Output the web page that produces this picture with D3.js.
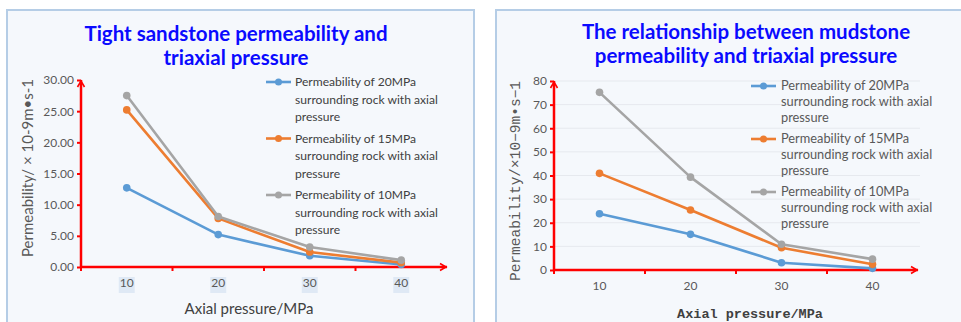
<!DOCTYPE html>
<html>
<head>
<meta charset="utf-8">
<script src="https://cdn.jsdelivr.net/npm/d3@7"></script>
<style>
  html, body { margin: 0; padding: 0; background: #ffffff; }
  svg { display: block; }
</style>
</head>
<body>
<svg id="chart" width="961" height="322"></svg>
<script>
// Axial pressure categories (MPa)
const categories = ["10", "20", "30", "40"];

// Series names (confining pressure)
const seriesNames = [
  "Permeability of 20MPa surrounding rock with axial pressure",
  "Permeability of 15MPa surrounding rock with axial pressure",
  "Permeability of 10MPa surrounding rock with axial pressure"
];
const seriesColors = ["#5b9bd5", "#ed7d31", "#a5a5a5"];

// Tight sandstone permeability (×10^-9 m/s)
const sandstone20 = [12.7, 5.2, 1.8, 0.4];
const sandstone15 = [25.2, 7.8, 2.4, 0.7];
const sandstone10 = [27.5, 8.1, 3.2, 1.1];
const sandstoneTicks = [0, 5, 10, 15, 20, 25, 30];

// Mudstone permeability (×10^-9 m/s)
const mudstone20 = [23.8, 15.1, 3.1, 0.7];
const mudstone15 = [40.9, 25.4, 9.4, 2.4];
const mudstone10 = [75.2, 39.3, 10.9, 4.6];
const mudstoneTicks = [0, 10, 20, 30, 40, 50, 60, 70, 80];

const svg = d3.select("#chart");
const AXIS_RED = "#ff0000";

function drawPanel(cfg) {
  const g = svg.append("g");

  // panel background and frame
  g.append("rect")
    .attr("x", cfg.frame[0]).attr("y", cfg.frame[1])
    .attr("width", cfg.frame[2]).attr("height", cfg.frame[3])
    .attr("fill", "#f5f8fc")
    .attr("stroke", "#b5cde6").attr("stroke-width", 2);

  // title
  const title = g.append("text")
    .attr("x", cfg.titleX).attr("y", cfg.titleY)
    .attr("text-anchor", "middle")
    .attr("fill", "#0a0aff")
    .attr("font-family", cfg.titleFont)
    .attr("font-weight", "bold")
    .attr("font-size", cfg.titleSize);
  cfg.title.forEach((line, i) => {
    title.append("tspan").attr("x", cfg.titleX).attr("dy", i === 0 ? 0 : cfg.titleGap).text(line);
  });

  const x = d3.scaleBand().domain(categories).range([cfg.x0, cfg.x1]).padding(0);
  const y = d3.scaleLinear().domain(cfg.yDomain).range([cfg.y0, cfg.yTop]);

  // horizontal gridlines
  if (cfg.grid) {
    g.append("g").selectAll("line").data(cfg.yTicks.slice(1)).join("line")
      .attr("x1", cfg.x0).attr("x2", cfg.x1 + 2)
      .attr("y1", d => y(d)).attr("y2", d => y(d))
      .attr("stroke", "#e6e9ee").attr("stroke-width", 1);
  }

  // y axis
  const yAxis = g.append("g")
    .attr("transform", `translate(${cfg.x0},0)`)
    .call(d3.axisLeft(y).tickValues(cfg.yTicks).tickFormat(cfg.yFormat).tickSize(4).tickPadding(3));
  yAxis.select(".domain").remove();
  yAxis.selectAll(".tick line").attr("stroke", AXIS_RED).attr("stroke-width", 2);
  yAxis.selectAll(".tick text")
    .attr("fill", "#595959")
    .attr("font-family", cfg.tickFont)
    .attr("font-size", cfg.tickSize);
  g.append("line")
    .attr("x1", cfg.x0).attr("x2", cfg.x0)
    .attr("y1", cfg.y0 + 1).attr("y2", cfg.yTop)
    .attr("stroke", AXIS_RED).attr("stroke-width", 2.5);
  g.append("path")
    .attr("d", `M${cfg.x0 - 3.5},${cfg.yTop + 7}L${cfg.x0},${cfg.yTop + 1}L${cfg.x0 + 3.5},${cfg.yTop + 7}`)
    .attr("fill", "none").attr("stroke", AXIS_RED).attr("stroke-width", 1.6);

  // x axis with ticks between categories
  const xAxis = g.append("g")
    .attr("transform", `translate(0,${cfg.y0})`)
    .call(d3.axisBottom(x).tickSize(0).tickPadding(cfg.xLabelPad));
  xAxis.select(".domain").remove();
  xAxis.selectAll(".tick text")
    .attr("fill", "#595959")
    .attr("font-family", cfg.tickFont)
    .attr("font-size", cfg.tickSize);
  if (cfg.labelBoxes) {
    xAxis.selectAll(".tick").insert("rect", "text")
      .attr("x", -8).attr("y", cfg.xLabelPad - 1)
      .attr("width", 16).attr("height", 16)
      .attr("fill", "#dfe9f5");
  }
  g.append("line")
    .attr("x1", cfg.x0 - 1).attr("x2", cfg.x1)
    .attr("y1", cfg.y0).attr("y2", cfg.y0)
    .attr("stroke", AXIS_RED).attr("stroke-width", 2.5);
  const bounds = categories.map(c => x(c)).slice(1);
  g.append("g").selectAll("line").data([cfg.x0].concat(bounds)).join("line")
    .attr("x1", d => d).attr("x2", d => d)
    .attr("y1", cfg.y0).attr("y2", cfg.y0 + 4)
    .attr("stroke", AXIS_RED).attr("stroke-width", 2);
  g.append("path")
    .attr("d", `M${cfg.x1 - 7},${cfg.y0 - 3.5}L${cfg.x1 - 1},${cfg.y0}L${cfg.x1 - 7},${cfg.y0 + 3.5}`)
    .attr("fill", "none").attr("stroke", AXIS_RED).attr("stroke-width", 1.6);

  // axis titles
  g.append("text")
    .attr("x", cfg.xTitleX).attr("y", cfg.xTitleY)
    .attr("text-anchor", "middle")
    .attr("fill", "#404040")
    .attr("font-family", cfg.xTitleFont)
    .attr("font-weight", cfg.xTitleWeight)
    .attr("font-size", cfg.xTitleSize)
    .text("Axial pressure/MPa");
  g.append("text")
    .attr("transform", `translate(${cfg.yTitleX},${cfg.yTitleY}) rotate(-90)`)
    .attr("text-anchor", "middle")
    .attr("fill", "#595959")
    .attr("font-family", cfg.yTitleFont)
    .attr("font-size", cfg.yTitleSize)
    .text(cfg.yTitle);

  // series lines and markers
  const line = d3.line().x((d, i) => x(categories[i]) + x.bandwidth() / 2).y(d => y(d));
  cfg.series.forEach((vals, k) => {
    const s = g.append("g");
    s.append("path").datum(vals)
      .attr("d", line)
      .attr("fill", "none")
      .attr("stroke", seriesColors[k])
      .attr("stroke-width", 2.6)
      .attr("stroke-linejoin", "round");
    s.selectAll("circle").data(vals).join("circle")
      .attr("cx", (d, i) => x(categories[i]) + x.bandwidth() / 2)
      .attr("cy", d => y(d))
      .attr("r", 3.8)
      .attr("fill", seriesColors[k]);
  });

  // legend
  const leg = g.append("g");
  seriesNames.forEach((name, k) => {
    const top = cfg.legY + k * cfg.legEntryGap;
    leg.append("line")
      .attr("x1", cfg.legX).attr("x2", cfg.legX + cfg.legLen)
      .attr("y1", top).attr("y2", top)
      .attr("stroke", seriesColors[k]).attr("stroke-width", 2.6);
    leg.append("circle")
      .attr("cx", cfg.legX + cfg.legLen / 2).attr("cy", top).attr("r", 3.5)
      .attr("fill", seriesColors[k]);
    const words = name.split(" ");
    const lines = [words.slice(0, 3).join(" "), words.slice(3, 7).join(" "), words.slice(7).join(" ")];
    const t = leg.append("text")
      .attr("x", cfg.legTextX).attr("y", top + 4)
      .attr("fill", cfg.legColor)
      .attr("font-family", cfg.legFont)
      .attr("font-size", cfg.legSize);
    lines.forEach((ln, i) => {
      t.append("tspan").attr("x", cfg.legTextX).attr("dy", i === 0 ? 0 : cfg.legLineGap).text(ln);
    });
  });
}

drawPanel({
  frame: [7, 10, 467, 330],
  title: ["Tight sandstone permeability and", "triaxial pressure"],
  titleX: 236, titleY: 41, titleGap: 24, titleSize: 20.5, titleFont: "Lato, 'Open Sans', sans-serif",
  x0: 81, x1: 447, y0: 267, yTop: 80,
  yDomain: [0, 30], yTicks: sandstoneTicks, yFormat: d3.format(".2f"),
  grid: false,
  tickFont: "Lato, sans-serif", tickSize: 12, xLabelPad: 11, labelBoxes: true,
  xTitleX: 249, xTitleY: 314, xTitleFont: "Lato, sans-serif", xTitleWeight: "normal", xTitleSize: 15,
  yTitle: "Permeability/ \u00D7 10-9m\u2022s-1", yTitleX: 33, yTitleY: 168, yTitleFont: "Lato, sans-serif", yTitleSize: 15,
  series: [sandstone20, sandstone15, sandstone10],
  legX: 266, legLen: 25, legTextX: 295, legY: 82, legEntryGap: 56.5, legLineGap: 17.5,
  legFont: "Lato, sans-serif", legSize: 12.1, legColor: "#404040"
});

drawPanel({
  frame: [496, 10, 470, 330],
  title: ["The relationship between mudstone", "permeability and triaxial pressure"],
  titleX: 746, titleY: 39, titleGap: 24, titleSize: 20.5, titleFont: "Lato, 'Open Sans', sans-serif",
  x0: 554, x1: 918, y0: 270, yTop: 81,
  yDomain: [0, 80], yTicks: mudstoneTicks, yFormat: d3.format("d"),
  grid: true,
  tickFont: "Lato, sans-serif", tickSize: 12, xLabelPad: 11, labelBoxes: false,
  xTitleX: 750, xTitleY: 318, xTitleFont: "'Liberation Mono', monospace", xTitleWeight: "bold", xTitleSize: 13.5,
  yTitle: "Permeability/\u00D710\u22129m\u2022s\u22121", yTitleX: 520, yTitleY: 181, yTitleFont: "'Liberation Mono', monospace", yTitleSize: 14.5,
  series: [mudstone20, mudstone15, mudstone10],
  legX: 751, legLen: 25, legTextX: 781, legY: 86, legEntryGap: 53, legLineGap: 16,
  legFont: "Lato, sans-serif", legSize: 12.8, legColor: "#595959"
});
</script>
</body>
</html>
